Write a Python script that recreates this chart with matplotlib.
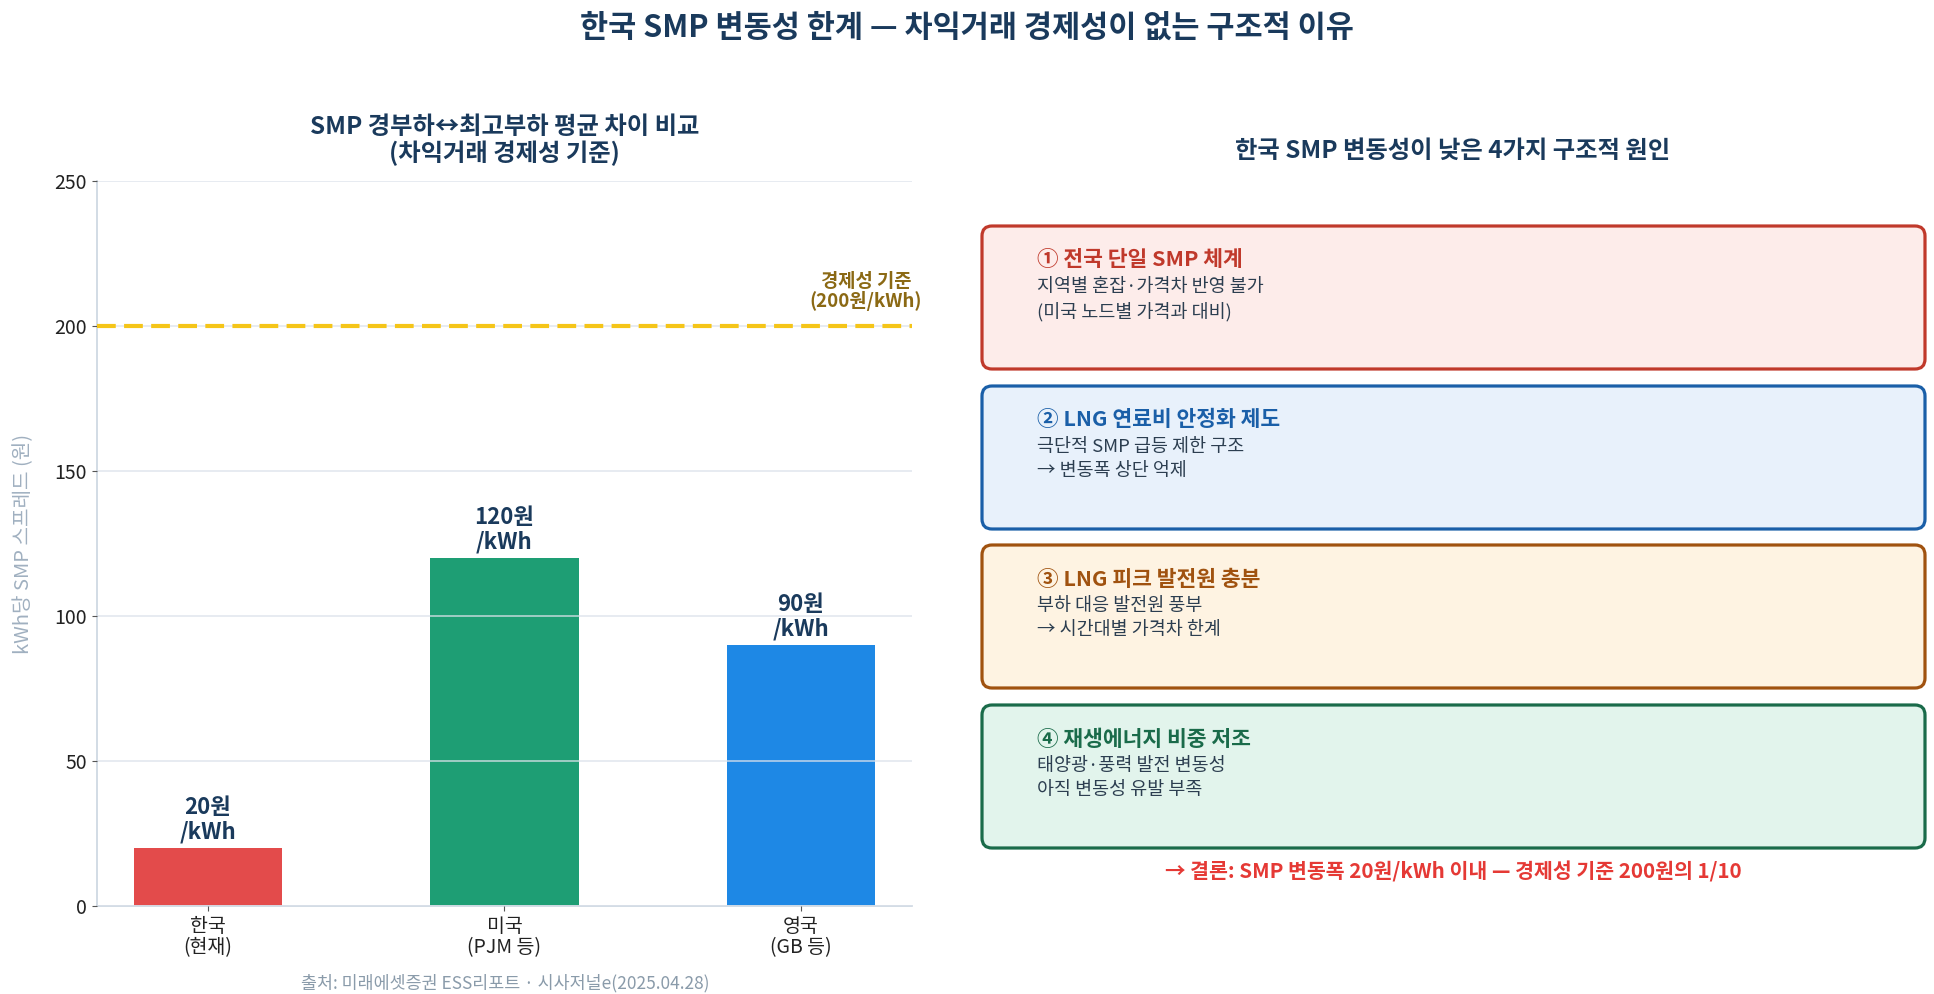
import numpy as np
import matplotlib.pyplot as plt
from matplotlib.patches import FancyBboxPatch

plt.rcParams['font.family'] = ['Noto Sans CJK KR', 'DejaVu Sans']

NAVY = "#1A3A5C"

# bar chart data
countries = ["한국\n(현재)", "미국\n(PJM 등)", "영국\n(GB 등)"]
spreads = [20, 120, 90]
bar_colors = ["#E34B4B", "#1E9E74", "#1E88E5"]
value_labels = ["20원\n/kWh", "120원\n/kWh", "90원\n/kWh"]
threshold = 200

# cause boxes
cause_titles = ["① 전국 단일 SMP 체계", "② LNG 연료비 안정화 제도",
                "③ LNG 피크 발전원 충분", "④ 재생에너지 비중 저조"]
cause_bodies = ["지역별 혼잡·가격차 반영 불가\n(미국 노드별 가격과 대비)",
                "극단적 SMP 급등 제한 구조\n→ 변동폭 상단 억제",
                "부하 대응 발전원 풍부\n→ 시간대별 가격차 한계",
                "태양광·풍력 발전 변동성\n아직 변동성 유발 부족"]
box_faces = ["#FDECEA", "#E8F1FB", "#FEF3E2", "#E2F4EC"]
box_edges = ["#C0392B", "#1A5FA8", "#A0520F", "#1A6B4A"]

fig = plt.figure(figsize=(19.34, 9.94), dpi=100)
fig.text(0.5, 0.972, "한국 SMP 변동성 한계 — 차익거래 경제성이 없는 구조적 이유",
         ha="center", va="center", fontsize=22, fontweight="bold", color=NAVY)

# ---- left: bar chart ----
ax = fig.add_axes([0.050, 0.0885, 0.4216, 0.7295])
x = np.arange(len(countries))
bars = ax.bar(x, spreads, width=0.5, color=bar_colors, zorder=1)
for b, lab in zip(bars, value_labels):
    ax.text(b.get_x() + b.get_width() / 2, b.get_height() + 1.5, lab,
            ha="center", va="bottom", fontsize=16, fontweight="bold",
            color=NAVY, linespacing=1.1)

ax.axhline(threshold, color="#F5C518", lw=3, dashes=(4.5, 2), zorder=3)
ax.text(2.22, threshold + 5, "경제성 기준\n(200원/kWh)", ha="center", va="bottom",
        fontsize=13.5, fontweight="bold", color="#8B6914", linespacing=1.05)

ax.set_ylim(0, 250)
ax.set_yticks(range(0, 251, 50))
ax.set_xticks(x)
ax.set_xticklabels(countries, fontsize=14, color="#222222", linespacing=1.05)
ax.tick_params(axis="y", labelsize=14, colors="#222222")
ax.tick_params(axis="both", color="#555555")
ax.yaxis.grid(True, color="#DCE2EA", lw=1.2, alpha=0.8, zorder=2)
ax.set_axisbelow(False)
for s in ["top", "right"]:
    ax.spines[s].set_visible(False)
for s in ["left", "bottom"]:
    ax.spines[s].set_color("#CBD5E0")
    ax.spines[s].set_linewidth(1.2)
ax.set_ylabel("kWh당 SMP 스프레드 (원)", fontsize=14.5, color="#A0B0C0")
ax.yaxis.set_label_coords(-0.077, 0.5)
ax.set_title("SMP 경부하↔최고부하 평균 차이 비교\n(차익거래 경제성 기준)",
             fontsize=17.5, fontweight="bold", color=NAVY, pad=14, linespacing=1.1)
fig.text(0.261, 0.011, "출처: 미래에셋증권 ESS리포트 · 시사저널e(2025.04.28)",
         ha="center", va="center", fontsize=12.5, color="#8A9BAA")

# ---- right: cause boxes (pixel coordinates) ----
rx = fig.add_axes([0.5, 0.0, 0.5, 1.0])
rx.set_xlim(0, 967)
rx.set_ylim(994, 0)
rx.axis("off")
rx.text(486, 151, "한국 SMP 변동성이 낮은 4가지 구조적 원인", ha="center", va="center",
        fontsize=17.5, fontweight="bold", color=NAVY)

box_top = [226, 386, 545, 705]
box_h = 143
for top, t, body, fc, ec in zip(box_top, cause_titles, cause_bodies, box_faces, box_edges):
    rx.add_patch(FancyBboxPatch((15, top), 943, box_h,
                                boxstyle="round,pad=0,rounding_size=10",
                                facecolor=fc, edgecolor=ec, lw=2.3))
    rx.text(70, top + 34, t, ha="left", va="center", fontsize=15.5,
            fontweight="bold", color=ec)
    rx.text(70, top + 52, body, ha="left", va="top", fontsize=13.3,
            color="#2C3E50", linespacing=1.4)

rx.text(486, 872, "→ 결론: SMP 변동폭 20원/kWh 이내 — 경제성 기준 200원의 1/10",
        ha="center", va="center", fontsize=14.8, fontweight="bold", color="#E53935")

fig.savefig("out.png", dpi=100)
